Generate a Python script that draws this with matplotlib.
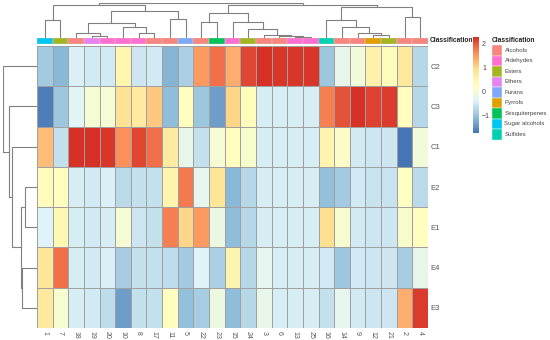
import numpy as np
import matplotlib
matplotlib.use("Agg")
import matplotlib.pyplot as plt
from matplotlib.colors import LinearSegmentedColormap, Normalize
from matplotlib.patches import Rectangle
from matplotlib.cm import ScalarMappable

plt.rcParams['font.family'] = ['Liberation Sans', 'DejaVu Sans']

# column (compound) order as clustered
compounds = ['1', '7', '18', '19', '20', '10', '8', '17', '11', '5', '22', '23', '15',
             '24', '3', '6', '13', '25', '16', '14', '9', '12', '21', '2', '4']
samples = ['C2', 'C3', 'C1', 'E2', 'E1', 'E4', 'E3']

# scaled values per sample row, same order as compounds
c2 = [-0.9, -1.1, -0.4, -0.5, -0.5, 0.5, -0.55, -0.5, -1.15, -0.8, 1.5, 1.85, 1.35,
      2.1, 2.3, 2.25, 2.25, 2.25, -0.95, -0.2, 0.0, 0.6, 0.35, 0.8, -0.75]
c3 = [-1.6, -0.95, -0.35, 0.05, 0.05, 0.9, 0.7, 1.15, -1.05, 0.3, -0.95, -1.35, 1.05,
      0.35, -0.45, -0.45, -0.45, -0.45, 1.7, 2.05, 2.3, 2.15, 2.2, 0.3, -0.75]
c1 = [1.25, -0.6, 2.3, 2.3, 2.25, 1.6, 2.1, 1.85, 0.7, -0.2, -0.6, 0.05, 0.3,
      0.15, -0.45, -0.45, -0.45, -0.45, 0.5, 0.2, -0.5, -0.55, -0.55, -1.72, 0.0]
e2 = [0.35, 0.3, -0.45, -0.5, -0.4, -0.7, -0.6, -0.62, 0.5, 1.75, -0.25, 0.85, -1.1,
      -0.75, -0.45, -0.45, -0.45, -0.45, -1.0, -0.9, -0.5, -0.58, -0.58, 0.25, -0.7]
e1 = [-0.38, 0.45, -0.45, -0.5, -0.45, 0.05, -0.55, -0.6, 1.7, 1.05, 1.5, -0.15, -1.05,
      -0.75, -0.45, -0.45, -0.45, -0.45, 0.95, 0.1, -0.5, -0.52, -0.52, 0.15, 0.3]
e4 = [0.85, 1.85, -0.45, -0.5, -0.4, -0.85, -0.6, -0.62, -0.65, -0.9, -0.38, -0.8, 0.5,
      -0.75, -0.25, -0.45, -0.45, -0.45, -0.5, -0.95, -0.5, -0.52, -0.52, -0.85, -0.2]
e3 = [0.75, 0.1, -0.45, -0.5, -0.65, -1.35, -0.6, -0.62, 0.3, -1.0, -0.85, -0.1, -1.05,
      -0.75, -0.2, -0.45, -0.45, -0.45, -0.6, -0.25, -0.5, -0.52, -0.52, 1.35, 2.2]

classification = ['Sugar alcohols', 'Esters', 'Alcohols', 'Ethers', 'Aldehydes', 'Aldehydes',
                  'Aldehydes', 'Alcohols', 'Alcohols', 'Furans', 'Alcohols', 'Sesquiterpenes',
                  'Aldehydes', 'Esters', 'Alcohols', 'Alcohols', 'Aldehydes', 'Aldehydes',
                  'Sulfides', 'Alcohols', 'Alcohols', 'Pyrrols', 'Esters', 'Alcohols', 'Alcohols']
class_names = ['Alcohols', 'Aldehydes', 'Esters', 'Ethers', 'Furans', 'Pyrrols',
               'Sesquiterpenes', 'Sugar alcohols', 'Sulfides']
class_colors = ['#F8857E', '#FF6FD0', '#A5B522', '#E882F2', '#80A8F8', '#E0A000',
                '#00C25A', '#00C6F2', '#00D0B0']

# dendrograms: (left, right, height)
col_tree = (
    (('1', '7', 17.7),
     ((('18', ('19', '20', 1.7), 4.4), ('10', ('8', '17', 4.4), 11.0), 14.4),
      ('11', '5', 18.4), 26.7), 32.7),
    ((('22', '23', 16.0),
      ('15', ('24', ('3', ('6', ('13', '25', 0.7), 1.2), 2.7), 8.4), 16.0), 24.4),
     (('16', ('14', ('9', ('12', '21', 2.7), 5.0), 10.4), 17.7), ('2', '4', 20.4), 31.0),
     32.4),
    34.4)
row_tree = ('C2', ('C3', ('C1', (('E2', 'E1', 11.7), ('E4', 'E3', 14.7), 16.0), 25.0), 27.4), 33.4)

W, H = 550, 340


def rect(x0, y0, x1, y1):
    return [x0 / W, 1 - y1 / H, (x1 - x0) / W, (y1 - y0) / H]


def draw_tree(ax, node, pos, top=True):
    if isinstance(node, str):
        return pos[node], 0.0
    a, b, h = node
    xa, ha = draw_tree(ax, a, pos, top)
    xb, hb = draw_tree(ax, b, pos, top)
    if top:
        ax.plot([xa, xa, xb, xb], [ha, h, h, hb], color='#808080', lw=0.8)
    else:
        ax.plot([ha, h, h, hb], [xa, xa, xb, xb], color='#808080', lw=0.8)
    return (xa + xb) / 2, h


cols = ['#4575B4', '#91BFDB', '#E0F3F8', '#FFFFBF', '#FEE090', '#FC8D59', '#D73027']
cmap = LinearSegmentedColormap.from_list('rdylbu', cols, N=100)
vmin, vmax = -1.72, 2.3
data = np.array([c2, c3, c1, e2, e1, e4, e3])

fig = plt.figure(figsize=(5.5, 3.4), dpi=100)

hx0, hx1, hy0, hy1 = 37, 428, 46, 328
ax = fig.add_axes(rect(hx0, hy0, hx1, hy1))
ax.pcolormesh(np.arange(len(compounds) + 1), np.arange(len(samples) + 1), data,
              cmap=cmap, vmin=vmin, vmax=vmax, edgecolors='#A0A0A0', linewidth=0.4)
ax.set_xlim(0, len(compounds))
ax.set_ylim(len(samples), 0)
ax.set_xticks(np.arange(len(compounds)) + 0.5)
ax.set_xticklabels(compounds, rotation=270, fontsize=5, color='#555555')
ax.yaxis.tick_right()
ax.set_yticks(np.arange(len(samples)) + 0.5)
ax.set_yticklabels(samples, fontsize=5.5, color='#555555')
ax.tick_params(length=0, pad=2)
for s in ax.spines.values():
    s.set_visible(False)

# annotation bar
ann = fig.add_axes(rect(hx0, 38, hx1, 43.5))
cmap_idx = [class_names.index(c) for c in classification]
for i, k in enumerate(cmap_idx):
    ann.add_patch(Rectangle((i, 0), 1, 1, facecolor=class_colors[k],
                            edgecolor='#D0D0D0', lw=0.3))
ann.set_xlim(0, len(compounds))
ann.set_ylim(0, 1)
ann.axis('off')
fig.text(430 / W, 1 - 41 / H, 'Classification', fontsize=4.8, fontweight='bold',
         va='center', ha='left', color='#222222')

# column dendrogram
cd = fig.add_axes(rect(hx0, 3.3, hx1, 37.7))
draw_tree(cd, col_tree, {c: i + 0.5 for i, c in enumerate(compounds)}, top=True)
cd.set_xlim(0, len(compounds))
cd.set_ylim(0, 34.4)
cd.axis('off')

# row dendrogram
rd = fig.add_axes(rect(3.3, hy0, 36.7, hy1))
draw_tree(rd, row_tree, {s: i + 0.5 for i, s in enumerate(samples)}, top=False)
rd.set_xlim(33.4, 0)
rd.set_ylim(len(samples), 0)
rd.axis('off')

# colour scale
cax = fig.add_axes(rect(472.7, 36.7, 479.3, 133.3))
cb = fig.colorbar(ScalarMappable(norm=Normalize(vmin, vmax), cmap=cmap), cax=cax)
cb.outline.set_visible(False)
cb.set_ticks([-1, 0, 1, 2])
cb.ax.tick_params(length=0, labelsize=5, pad=2, colors='#444444')
cb.ax.set_yticklabels(['\u22121', '0', '1', '2'])

# classification legend
fig.text(491.7 / W, 1 - 40.7 / H, 'Classification', fontsize=4.8, fontweight='bold',
         va='center', ha='left', color='#222222')
box_h = 10.5
for i, (name, col) in enumerate(zip(class_names, class_colors)):
    y0 = 45 + i * box_h
    fig.patches.append(Rectangle((491.7 / W, 1 - (y0 + box_h) / H), 10 / W, box_h / H,
                                 transform=fig.transFigure, facecolor=col,
                                 edgecolor='white', lw=0.3))
    fig.text(504.5 / W, 1 - (y0 + box_h / 2) / H, name, fontsize=4.4, va='center',
             ha='left', color='#444444')

fig.savefig('out.png', dpi=100)
